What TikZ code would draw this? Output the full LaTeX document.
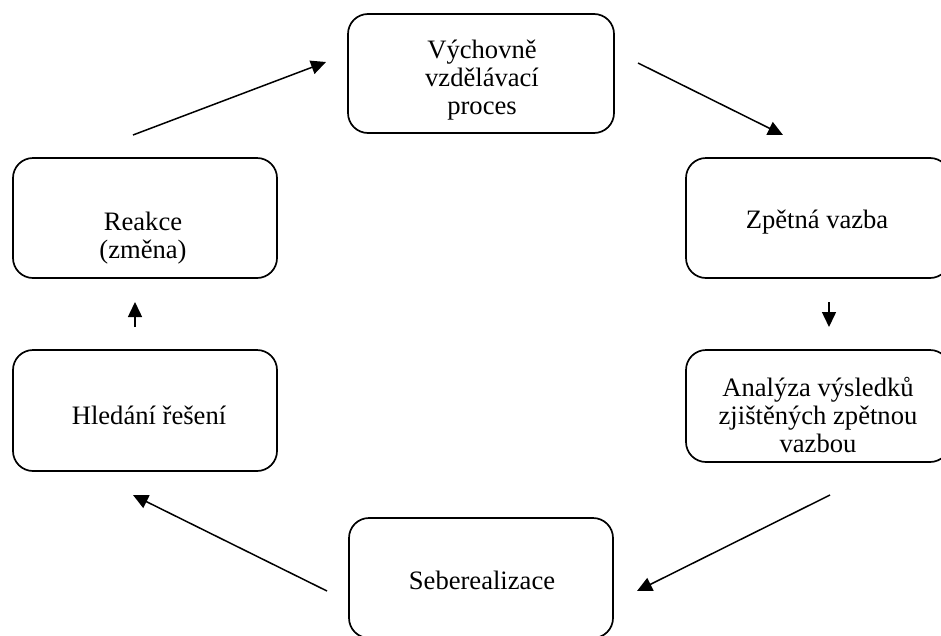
\documentclass[tikz,border=0pt]{standalone}
\usepackage{fontspec}
\setmainfont{Liberation Serif}
\usetikzlibrary{arrows.meta}
\tikzset{
  cyclebox/.style={draw=black, line width=1.7pt, rounded corners=20pt, minimum width=264pt, inner sep=0pt},
  boxtext/.style={align=center, font=\fontsize{26.6}{28}\selectfont, inner sep=0pt},
  flow/.style={line width=1.5pt, -{Triangle[length=15pt,width=14pt]}}
}
\begin{document}
\begin{tikzpicture}[x=1pt,y=-1pt]
\useasboundingbox (0,0) rectangle (941,635);
\begin{scope}
\clip (0,0) rectangle (941,635);
% boxes
\node[cyclebox, minimum width=266pt, minimum height=119pt] (bTop) at (481,73.5) {};
\node[cyclebox, minimum height=120pt] (bReak) at (145,218) {};
\node[cyclebox, minimum height=120pt] (bZpet) at (818,218) {};
\node[cyclebox, minimum height=121pt] (bHled) at (145,410.5) {};
\node[cyclebox, minimum height=112pt] (bAnal) at (818,406) {};
\node[cyclebox, minimum height=120pt] (bSebe) at (481,578) {};
\end{scope}
% texts
\node[boxtext] (tTop) at (482,80) {Výchovně\\vzdělávací\\proces};
\node[boxtext] (tReak) at (143,238) {Reakce\\(změna)};
\node[boxtext] (tZpet) at (817,222) {Zpětná vazba};
\node[boxtext] (tHled) at (149,415) {Hledání řešení};
\node[boxtext] (tAnal) at (818,415) {Analýza výsledků\\zjištěných zpětnou\\vazbou};
\node[boxtext] (tSebe) at (482,580) {Seberealizace};
% arrow endpoints
\coordinate (a1s) at (133,135); \coordinate (a1e) at (326,62);
\coordinate (a2s) at (638,63);  \coordinate (a2e) at (783,135);
\coordinate (a3s) at (829,302); \coordinate (a3e) at (829,327);
\coordinate (a4s) at (830,495); \coordinate (a4e) at (637,591);
\coordinate (a5s) at (327,591); \coordinate (a5e) at (133,495);
\coordinate (a6s) at (135,327); \coordinate (a6e) at (135,302);
\draw[flow] (a1s) -- (a1e);
\draw[flow] (a2s) -- (a2e);
\draw[flow] (a3s) -- (a3e);
\draw[flow] (a4s) -- (a4e);
\draw[flow] (a5s) -- (a5e);
\draw[flow] (a6s) -- (a6e);
\end{tikzpicture}
\end{document}
